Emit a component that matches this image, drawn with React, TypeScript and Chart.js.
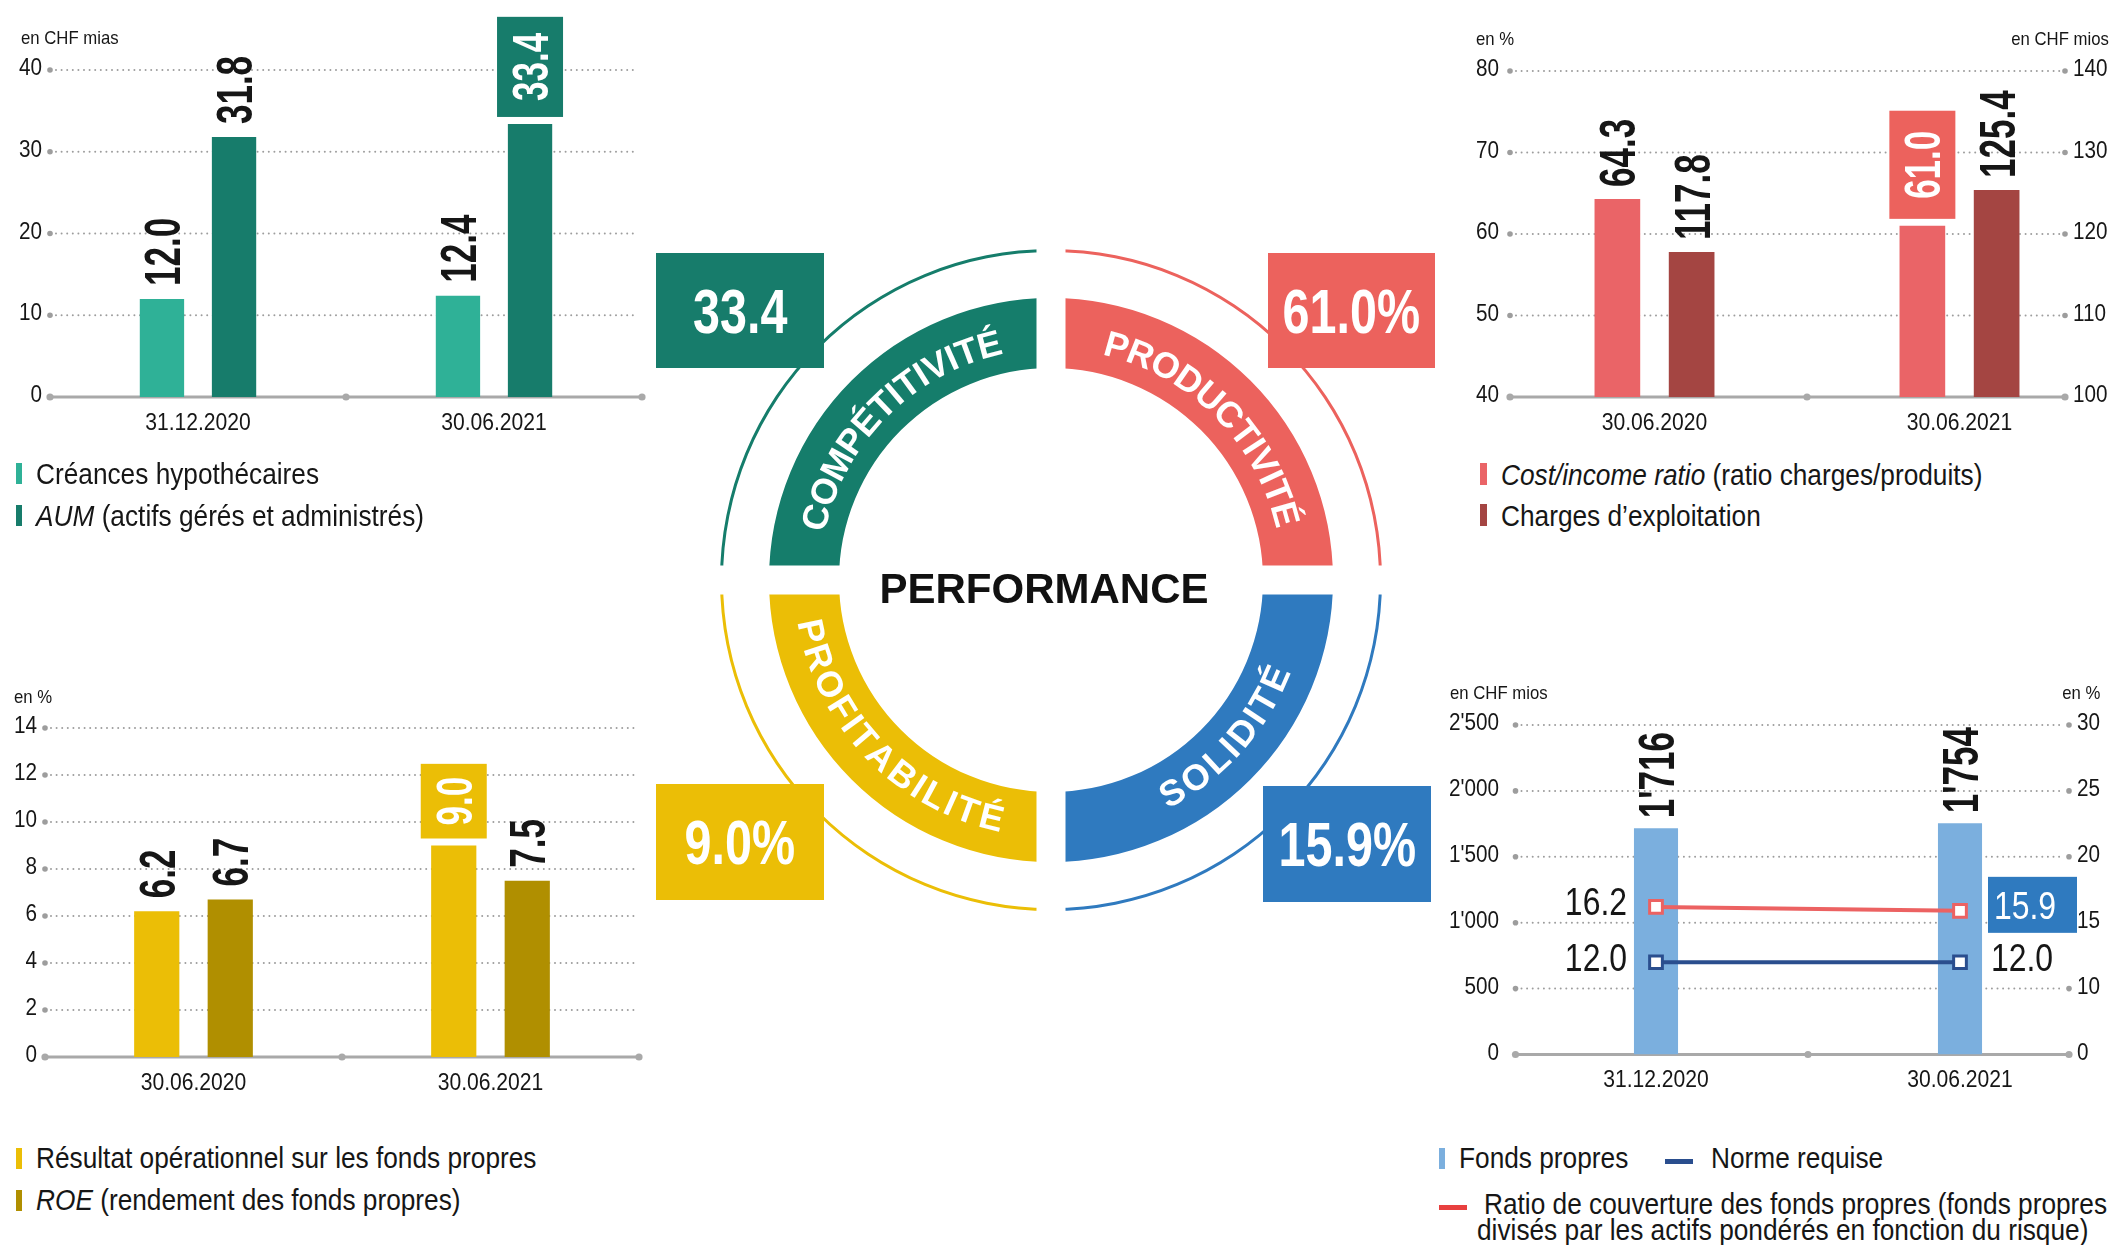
import React, { useEffect, useRef } from 'react';
import { Chart, registerables } from 'chart.js';

Chart.register(...registerables);

const FONT = '"Liberation Sans", Arial, sans-serif';
const GRID = '#9d9d9d';
const AXIS = '#a9a9a9';
const INK = '#161616';

// ---------- Top-left : Compétitivité ----------
const tlCategories = ['31.12.2020', '30.06.2021'];
const tlMortgages = [12.0, 12.4];
const tlAum = [31.8, 33.4];
const tlTicks = [0, 10, 20, 30, 40];
const tlUnit = 'en CHF mias';
const tlLegendItalic = ['', 'AUM'];
const tlLegendText = ['Créances hypothécaires', ' (actifs gérés et administrés)'];

// ---------- Top-right : Productivité ----------
const trCategories = ['30.06.2020', '30.06.2021'];
const trCostIncome = [64.3, 61.0];
const trExpenses = [117.8, 125.4];
const trLeftTicks = [40, 50, 60, 70, 80];
const trRightTicks = [100, 110, 120, 130, 140];
const trUnitLeft = 'en %';
const trUnitRight = 'en CHF mios';
const trLegendItalic = ['Cost/income ratio', ''];
const trLegendText = [' (ratio charges/produits)', 'Charges d’exploitation'];

// ---------- Bottom-left : Profitabilité ----------
const blCategories = ['30.06.2020', '30.06.2021'];
const blOperating = [6.2, 9.0];
const blRoe = [6.7, 7.5];
const blTicks = [0, 2, 4, 6, 8, 10, 12, 14];
const blUnit = 'en %';
const blLegendItalic = ['', 'ROE'];
const blLegendText = ['Résultat opérationnel sur les fonds propres', ' (rendement des fonds propres)'];

// ---------- Bottom-right : Solidité ----------
const brCategories = ['31.12.2020', '30.06.2021'];
const brEquity = [1716, 1754];
const brRequired = [12.0, 12.0];
const brCoverage = [16.2, 15.9];
const brLeftTicks = [0, 500, 1000, 1500, 2000, 2500];
const brRightTicks = [5, 10, 15, 20, 25, 30];
const brRightTickLabels = ['0', '10', '15', '20', '25', '30'];
const brUnitLeft = 'en CHF mios';
const brUnitRight = 'en %';
const brLegendEquity = 'Fonds propres';
const brLegendRequired = 'Norme requise';
const brLegendCoverage = [
  'Ratio de couverture des fonds propres (fonds propres',
  'divisés par les actifs pondérés en fonction du risque)',
];

// ---------- Centre ring ----------
const pillarNames = ['PRODUCTIVITÉ', 'SOLIDITÉ', 'PROFITABILITÉ', 'COMPÉTITIVITÉ'];
const pillarAngles = [-45, 42, 136, 225];
const pillarShare = [1, 1, 1, 1];
const centreTitle = 'PERFORMANCE';

// ---------- Colours ----------
const GREEN_L = '#2FB197';
const GREEN_D = '#177C6B';
const RED_L = '#EA6467';
const RED_D = '#A44542';
const RED_BOX = '#EC625D';
const YEL_L = '#EBBE06';
const YEL_D = '#B08F00';
const BLUE_L = '#7BAFDE';
const BLUE_D = '#2F7ABF';
const NAVY = '#2A4E8E';
const RED_LINE = '#EC6262';
const RING = [RED_BOX, BLUE_D, YEL_L, '#157D6B'];

const fmt1 = (v: number) => v.toFixed(1);
const fmtK = (v: number) => String(Math.round(v)).replace(/\B(?=(\d{3})+(?!\d))/g, "'");

function circle(ctx: any, x: number, y: number, r: number) {
  ctx.beginPath();
  ctx.arc(x, y, r, 0, Math.PI * 2);
  ctx.fill();
}

function txt(ctx: any, s: string, x: number, cy: number, align: string, sx: number, size: number, weight = '') {
  ctx.save();
  ctx.font = `${weight} ${size}px ${FONT}`.trim();
  ctx.textAlign = align;
  ctx.textBaseline = 'alphabetic';
  ctx.translate(x, cy + 0.358 * size);
  ctx.scale(sx, 1);
  ctx.fillText(s, 0, 0);
  ctx.restore();
}

type FrameCfg = {
  insetL: number;
  insetR: number;
  dotRight: boolean;
  leftTicks: number[];
  leftLabels: string[];
  leftLabelDx: number;
  rightScale?: string;
  rightTicks?: number[];
  rightLabels?: string[];
};

function makeFrame(cfg: FrameCfg) {
  return {
    id: 'frame',
    beforeDatasetsDraw(chart: any) {
      const ctx = chart.ctx;
      const a = chart.chartArea;
      const ys = chart.scales.y;
      const xs = chart.scales.x;
      const gl = a.left + cfg.insetL;
      const gr = a.right - cfg.insetR;
      ctx.save();
      cfg.leftTicks.slice(1).forEach((v) => {
        const py = ys.getPixelForValue(v);
        ctx.strokeStyle = GRID;
        ctx.lineWidth = 2;
        ctx.lineCap = 'round';
        ctx.setLineDash([0, 5.6]);
        ctx.beginPath();
        ctx.moveTo(gl + 6, py);
        ctx.lineTo(gr - 5, py);
        ctx.stroke();
        ctx.setLineDash([]);
        ctx.fillStyle = GRID;
        circle(ctx, gl, py, 2.8);
        if (cfg.dotRight) circle(ctx, gr, py, 2.8);
      });
      const by = ys.getPixelForValue(cfg.leftTicks[0]);
      ctx.strokeStyle = AXIS;
      ctx.lineWidth = 3;
      ctx.lineCap = 'butt';
      ctx.beginPath();
      ctx.moveTo(gl, by);
      ctx.lineTo(gr, by);
      ctx.stroke();
      ctx.fillStyle = AXIS;
      [gl, (a.left + a.right) / 2, gr].forEach((x) => circle(ctx, x, by, 3.6));

      ctx.fillStyle = INK;
      cfg.leftTicks.forEach((v, i) => {
        txt(ctx, cfg.leftLabels[i], a.left + cfg.leftLabelDx, ys.getPixelForValue(v) - 3, 'right', 0.9, 23);
      });
      if (cfg.rightScale && cfg.rightTicks && cfg.rightLabels) {
        const rs = chart.scales[cfg.rightScale];
        cfg.rightTicks.forEach((v, i) => {
          txt(ctx, cfg.rightLabels![i], gr + 8, rs.getPixelForValue(v) - 3, 'left', 0.9, 23);
        });
      }
      chart.data.labels.forEach((l: string, i: number) => {
        txt(ctx, l, xs.getPixelForValue(i), a.bottom + 24, 'center', 0.88, 24);
      });
      ctx.restore();
    },
  };
}

type BarLabelCfg = {
  datasets: number[];
  fmt: (v: number) => string;
  gap: number;
  hi?: { ds: number; idx: number; color: string; pad: number };
};

function makeBarLabels(cfg: BarLabelCfg) {
  return {
    id: 'barLabels',
    afterDatasetsDraw(chart: any) {
      const ctx = chart.ctx;
      cfg.datasets.forEach((di) => {
        const meta = chart.getDatasetMeta(di);
        const vals = chart.data.datasets[di].data;
        meta.data.forEach((bar: any, i: number) => {
          const s = cfg.fmt(vals[i]);
          ctx.save();
          ctx.font = `bold 50px ${FONT}`;
          const w = ctx.measureText(s).width * 0.7;
          const isHi = !!cfg.hi && cfg.hi.ds === di && cfg.hi.idx === i;
          ctx.translate(bar.x, bar.y - (isHi ? 7 : cfg.gap));
          ctx.rotate(-Math.PI / 2);
          let x0 = 0;
          if (isHi) {
            const pad = cfg.hi!.pad;
            const thick = 66;
            ctx.fillStyle = cfg.hi!.color;
            ctx.fillRect(0, -thick / 2, w + pad * 2, thick);
            ctx.fillStyle = '#fff';
            x0 = pad;
          } else {
            ctx.fillStyle = INK;
          }
          ctx.translate(x0, 0.358 * 50);
          ctx.scale(0.7, 1);
          ctx.textAlign = 'left';
          ctx.textBaseline = 'alphabetic';
          ctx.fillText(s, 0, 0);
          ctx.restore();
        });
      });
    },
  };
}

function makeLineLabels(specs: { ds: number; hiIdx: number; color: string }[]) {
  return {
    id: 'lineLabels',
    afterDatasetsDraw(chart: any) {
      const ctx = chart.ctx;
      specs.forEach((sp) => {
        const meta = chart.getDatasetMeta(sp.ds);
        const vals = chart.data.datasets[sp.ds].data;
        meta.data.forEach((pt: any, i: number) => {
          const s = fmt1(vals[i]);
          const cy = pt.y - 5;
          ctx.save();
          if (i === 0) {
            ctx.fillStyle = INK;
            txt(ctx, s, pt.x - 29, cy, 'right', 0.84, 38);
          } else if (i === sp.hiIdx) {
            ctx.fillStyle = sp.color;
            ctx.fillRect(pt.x + 28, pt.y - 34, 89, 56);
            ctx.fillStyle = '#fff';
            txt(ctx, s, pt.x + 34, cy, 'left', 0.84, 38);
          } else {
            ctx.fillStyle = INK;
            txt(ctx, s, pt.x + 31, cy, 'left', 0.84, 38);
          }
          ctx.restore();
        });
      });
    },
  };
}

function arcText(ctx: any, str: string, cx: number, cy: number, r: number, centerDeg: number, cw: boolean, spacing: number, capH: number) {
  const chars = Array.from(str);
  const widths = chars.map((c) => ctx.measureText(c).width);
  const total = widths.reduce((s, w) => s + w, 0) + spacing * (chars.length - 1);
  const c = (centerDeg * Math.PI) / 180;
  let cum = 0;
  ctx.textAlign = 'center';
  ctx.textBaseline = 'alphabetic';
  chars.forEach((ch, i) => {
    const mid = cum + widths[i] / 2;
    const off = (mid - total / 2) / r;
    ctx.save();
    ctx.translate(cx, cy);
    if (cw) {
      ctx.rotate(c + off + Math.PI / 2);
      ctx.fillText(ch, 0, -r + capH / 2);
    } else {
      ctx.rotate(c - off - Math.PI / 2);
      ctx.fillText(ch, 0, r + capH / 2);
    }
    ctx.restore();
    cum += widths[i] + spacing;
  });
}

function makeRingDecor() {
  return {
    id: 'ringDecor',
    afterDatasetsDraw(chart: any) {
      const ctx = chart.ctx;
      const arc = chart.getDatasetMeta(0).data[0];
      const cx = arc.x;
      const cy = arc.y;
      ctx.save();
      ctx.fillStyle = '#fff';
      ctx.fillRect(cx - 14.5, cy - 345, 29, 690);
      ctx.fillRect(cx - 345, cy - 14.5, 690, 29);
      ctx.font = `bold 36px ${FONT}`;
      ctx.fillStyle = '#fff';
      pillarNames.forEach((name, k) => {
        const cw = k === 0 || k === 3;
        arcText(ctx, name, cx, cy, 244, pillarAngles[k], cw, cw ? 0.5 : 2, 0.716 * 36);
      });
      ctx.fillStyle = '#111';
      ctx.font = `bold 42px ${FONT}`;
      ctx.textAlign = 'center';
      ctx.textBaseline = 'alphabetic';
      ctx.fillText(centreTitle, cx - 7, cy + 8 + 15);
      ctx.restore();
    },
  };
}

const baseOptions = (padding: any, scales: any) => ({
  responsive: false,
  animation: false,
  events: [],
  layout: { padding, autoPadding: false },
  plugins: { legend: { display: false }, tooltip: { enabled: false } },
  scales,
});

const BP = 0.615;
const CP = 0.487;

function makeTL() {
  return {
    type: 'bar',
    data: {
      labels: tlCategories,
      datasets: [
        { data: tlMortgages, backgroundColor: GREEN_L, barPercentage: BP, categoryPercentage: CP },
        { data: tlAum, backgroundColor: GREEN_D, barPercentage: BP, categoryPercentage: CP },
      ],
    },
    options: baseOptions(
      { left: 50, right: 18, top: 70, bottom: 43 },
      { x: { display: false }, y: { display: false, min: tlTicks[0], max: tlTicks[tlTicks.length - 1] } }
    ),
    plugins: [
      makeFrame({ insetL: 0, insetR: 0, dotRight: false, leftTicks: tlTicks, leftLabels: tlTicks.map(String), leftLabelDx: -8 }),
      makeBarLabels({ datasets: [0, 1], fmt: fmt1, gap: 13, hi: { ds: 1, idx: 1, color: GREEN_D, pad: 16 } }),
    ],
  };
}

function makeTR() {
  return {
    type: 'bar',
    data: {
      labels: trCategories,
      datasets: [
        { data: trCostIncome, yAxisID: 'y', backgroundColor: RED_L, barPercentage: BP, categoryPercentage: CP },
        { data: trExpenses, yAxisID: 'y1', backgroundColor: RED_D, barPercentage: BP, categoryPercentage: CP },
      ],
    },
    options: baseOptions(
      { left: 46, right: 2, top: 71, bottom: 43 },
      {
        x: { display: false },
        y: { display: false, min: trLeftTicks[0], max: trLeftTicks[trLeftTicks.length - 1] },
        y1: { display: false, position: 'right', min: trRightTicks[0], max: trRightTicks[trRightTicks.length - 1] },
      }
    ),
    plugins: [
      makeFrame({
        insetL: 8, insetR: 47, dotRight: true, leftTicks: trLeftTicks, leftLabels: trLeftTicks.map(String), leftLabelDx: -3,
        rightScale: 'y1', rightTicks: trRightTicks, rightLabels: trRightTicks.map(String),
      }),
      makeBarLabels({ datasets: [0, 1], fmt: fmt1, gap: 12, hi: { ds: 0, idx: 1, color: RED_BOX, pad: 20 } }),
    ],
  };
}

function makeBL() {
  return {
    type: 'bar',
    data: {
      labels: blCategories,
      datasets: [
        { data: blOperating, backgroundColor: YEL_L, barPercentage: BP, categoryPercentage: 0.495 },
        { data: blRoe, backgroundColor: YEL_D, barPercentage: BP, categoryPercentage: 0.495 },
      ],
    },
    options: baseOptions(
      { left: 45, right: 21, top: 54, bottom: 57 },
      { x: { display: false }, y: { display: false, min: blTicks[0], max: blTicks[blTicks.length - 1] } }
    ),
    plugins: [
      makeFrame({ insetL: 0, insetR: 0, dotRight: false, leftTicks: blTicks, leftLabels: blTicks.map(String), leftLabelDx: -8 }),
      makeBarLabels({ datasets: [0, 1], fmt: fmt1, gap: 13, hi: { ds: 0, idx: 1, color: YEL_L, pad: 13 } }),
    ],
  };
}

function makeBR() {
  return {
    type: 'bar',
    data: {
      labels: brCategories,
      datasets: [
        {
          type: 'line', data: brCoverage, yAxisID: 'y1', borderColor: RED_LINE, borderWidth: 4,
          pointStyle: 'rect', pointRadius: 9, pointBorderWidth: 3, pointBackgroundColor: '#fff',
          pointBorderColor: RED_LINE, fill: false, order: 0,
        },
        {
          type: 'line', data: brRequired, yAxisID: 'y1', borderColor: NAVY, borderWidth: 4,
          pointStyle: 'rect', pointRadius: 9, pointBorderWidth: 3, pointBackgroundColor: '#fff',
          pointBorderColor: NAVY, fill: false, order: 0,
        },
        { type: 'bar', data: brEquity, yAxisID: 'y', backgroundColor: BLUE_L, barPercentage: 0.145, categoryPercentage: 1, order: 1 },
      ],
    },
    options: baseOptions(
      { left: 75, right: 2, top: 51, bottom: 59.5 },
      {
        x: { display: false },
        y: { display: false, min: brLeftTicks[0], max: brLeftTicks[brLeftTicks.length - 1] },
        y1: { display: false, position: 'right', min: brRightTicks[0], max: brRightTicks[brRightTicks.length - 1] },
      }
    ),
    plugins: [
      makeFrame({
        insetL: 11.5, insetR: 43, dotRight: true, leftTicks: brLeftTicks, leftLabels: brLeftTicks.map(fmtK), leftLabelDx: -5,
        rightScale: 'y1', rightTicks: brRightTicks, rightLabels: brRightTickLabels,
      }),
      makeBarLabels({ datasets: [2], fmt: fmtK, gap: 10 }),
      makeLineLabels([
        { ds: 0, hiIdx: 1, color: BLUE_D },
        { ds: 1, hiIdx: -1, color: NAVY },
      ]),
    ],
  };
}

function makeRing() {
  return {
    type: 'doughnut',
    data: {
      labels: pillarNames,
      datasets: [
        { data: pillarShare, backgroundColor: RING, borderWidth: 0, weight: 3 },
        { data: pillarShare, backgroundColor: 'rgba(0,0,0,0)', borderWidth: 0, weight: 46 },
        { data: pillarShare, backgroundColor: RING, borderWidth: 0, weight: 70 },
      ],
    },
    options: {
      responsive: false,
      animation: false,
      events: [],
      cutout: `${(212 / 331) * 100}%`,
      layout: { padding: { left: 70, right: 68, top: 9, bottom: 9 }, autoPadding: false },
      plugins: { legend: { display: false }, tooltip: { enabled: false } },
    },
    plugins: [makeRingDecor()],
  };
}

function ChartBox({ left, top, width, height, make }: any) {
  const ref = useRef<HTMLCanvasElement>(null);
  useEffect(() => {
    const chart = new Chart(ref.current as HTMLCanvasElement, make());
    return () => chart.destroy();
  }, []);
  return (
    <canvas
      ref={ref}
      width={width}
      height={height}
      style={{ position: 'absolute', left, top, width, height, display: 'block' }}
    />
  );
}

function Unit({ text, x, cy, right }: { text: string; x: number; cy: number; right?: boolean }) {
  const style: any = {
    position: 'absolute',
    top: cy - 12,
    height: 24,
    lineHeight: '24px',
    fontSize: 19,
    whiteSpace: 'nowrap',
    transform: 'scaleX(0.88)',
    transformOrigin: right ? 'right center' : 'left center',
  };
  if (right) style.right = 2114 - x;
  else style.left = x;
  return <div style={style}>{text}</div>;
}

function LegendText({ x, cy, italic, rest }: { x: number; cy: number; italic: string; rest: string }) {
  return (
    <div
      style={{
        position: 'absolute',
        left: x,
        top: cy - 18,
        height: 36,
        lineHeight: '36px',
        fontSize: 30,
        whiteSpace: 'nowrap',
        transform: 'scaleX(0.875)',
        transformOrigin: 'left center',
      }}
    >
      {italic ? <i>{italic}</i> : null}
      {rest}
    </div>
  );
}

function Swatch({ x, cy, w, h, color }: { x: number; cy: number; w: number; h: number; color: string }) {
  return <div style={{ position: 'absolute', left: x, top: cy - h / 2, width: w, height: h, background: color }} />;
}

function ValueBox({ x, y, w, h, color, text }: any) {
  return (
    <div
      style={{
        position: 'absolute', left: x, top: y, width: w, height: h, background: color,
        display: 'flex', justifyContent: 'center', alignItems: 'center',
      }}
    >
      <div
        style={{
          color: '#fff', fontWeight: 'bold', fontSize: 63, lineHeight: '76px', height: 76,
          whiteSpace: 'nowrap', transform: 'scaleX(0.77)',
        }}
      >
        {text}
      </div>
    </div>
  );
}

export default function App() {
  const pillarValues = [
    fmt1(tlAum[1]),
    `${fmt1(trCostIncome[1])}%`,
    `${fmt1(blOperating[1])}%`,
    `${fmt1(brCoverage[1])}%`,
  ];
  return (
    <div
      style={{
        position: 'absolute', left: 0, top: 0, width: 2114, height: 1245, background: '#fff',
        overflow: 'hidden', fontFamily: FONT, color: INK,
      }}
    >
      <ChartBox left={0} top={0} width={660} height={440} make={makeTL} />
      <ChartBox left={1456} top={0} width={658} height={440} make={makeTR} />
      <ChartBox left={0} top={674} width={660} height={440} make={makeBL} />
      <ChartBox left={1429} top={674} width={685} height={440} make={makeBR} />
      <ChartBox left={650} top={240} width={800} height={680} make={makeRing} />

      <Unit text={tlUnit} x={21} cy={38} />
      <Unit text={trUnitLeft} x={1476} cy={39} />
      <Unit text={trUnitRight} x={2109} cy={39} right />
      <Unit text={blUnit} x={14} cy={697} />
      <Unit text={brUnitLeft} x={1450} cy={693} />
      <Unit text={brUnitRight} x={2100} cy={693} right />

      <Swatch x={16} cy={473} w={6} h={21} color={GREEN_L} />
      <LegendText x={36} cy={474} italic={tlLegendItalic[0]} rest={tlLegendText[0]} />
      <Swatch x={16} cy={515} w={6} h={21} color={GREEN_D} />
      <LegendText x={36} cy={516} italic={tlLegendItalic[1]} rest={tlLegendText[1]} />

      <Swatch x={1480} cy={474} w={7} h={22} color={RED_L} />
      <LegendText x={1501} cy={475} italic={trLegendItalic[0]} rest={trLegendText[0]} />
      <Swatch x={1480} cy={515} w={7} h={22} color={RED_D} />
      <LegendText x={1501} cy={516} italic={trLegendItalic[1]} rest={trLegendText[1]} />

      <Swatch x={16} cy={1158} w={6} h={21} color={YEL_L} />
      <LegendText x={36} cy={1158} italic={blLegendItalic[0]} rest={blLegendText[0]} />
      <Swatch x={16} cy={1200} w={6} h={21} color={YEL_D} />
      <LegendText x={36} cy={1200} italic={blLegendItalic[1]} rest={blLegendText[1]} />

      <Swatch x={1439} cy={1158} w={6} h={21} color={BLUE_L} />
      <LegendText x={1459} cy={1158} italic="" rest={brLegendEquity} />
      <Swatch x={1665} cy={1161} w={28} h={5} color={NAVY} />
      <LegendText x={1711} cy={1158} italic="" rest={brLegendRequired} />
      <Swatch x={1439} cy={1207} w={28} h={5} color="#E8403F" />
      <LegendText x={1484} cy={1204} italic="" rest={brLegendCoverage[0]} />
      <LegendText x={1477} cy={1230} italic="" rest={brLegendCoverage[1]} />

      <ValueBox x={656} y={253} w={168} h={115} color={GREEN_D} text={pillarValues[0]} />
      <ValueBox x={1268} y={253} w={167} h={115} color={RED_BOX} text={pillarValues[1]} />
      <ValueBox x={656} y={784} w={168} h={116} color={YEL_L} text={pillarValues[2]} />
      <ValueBox x={1263} y={786} w={168} h={116} color={BLUE_D} text={pillarValues[3]} />
    </div>
  );
}
